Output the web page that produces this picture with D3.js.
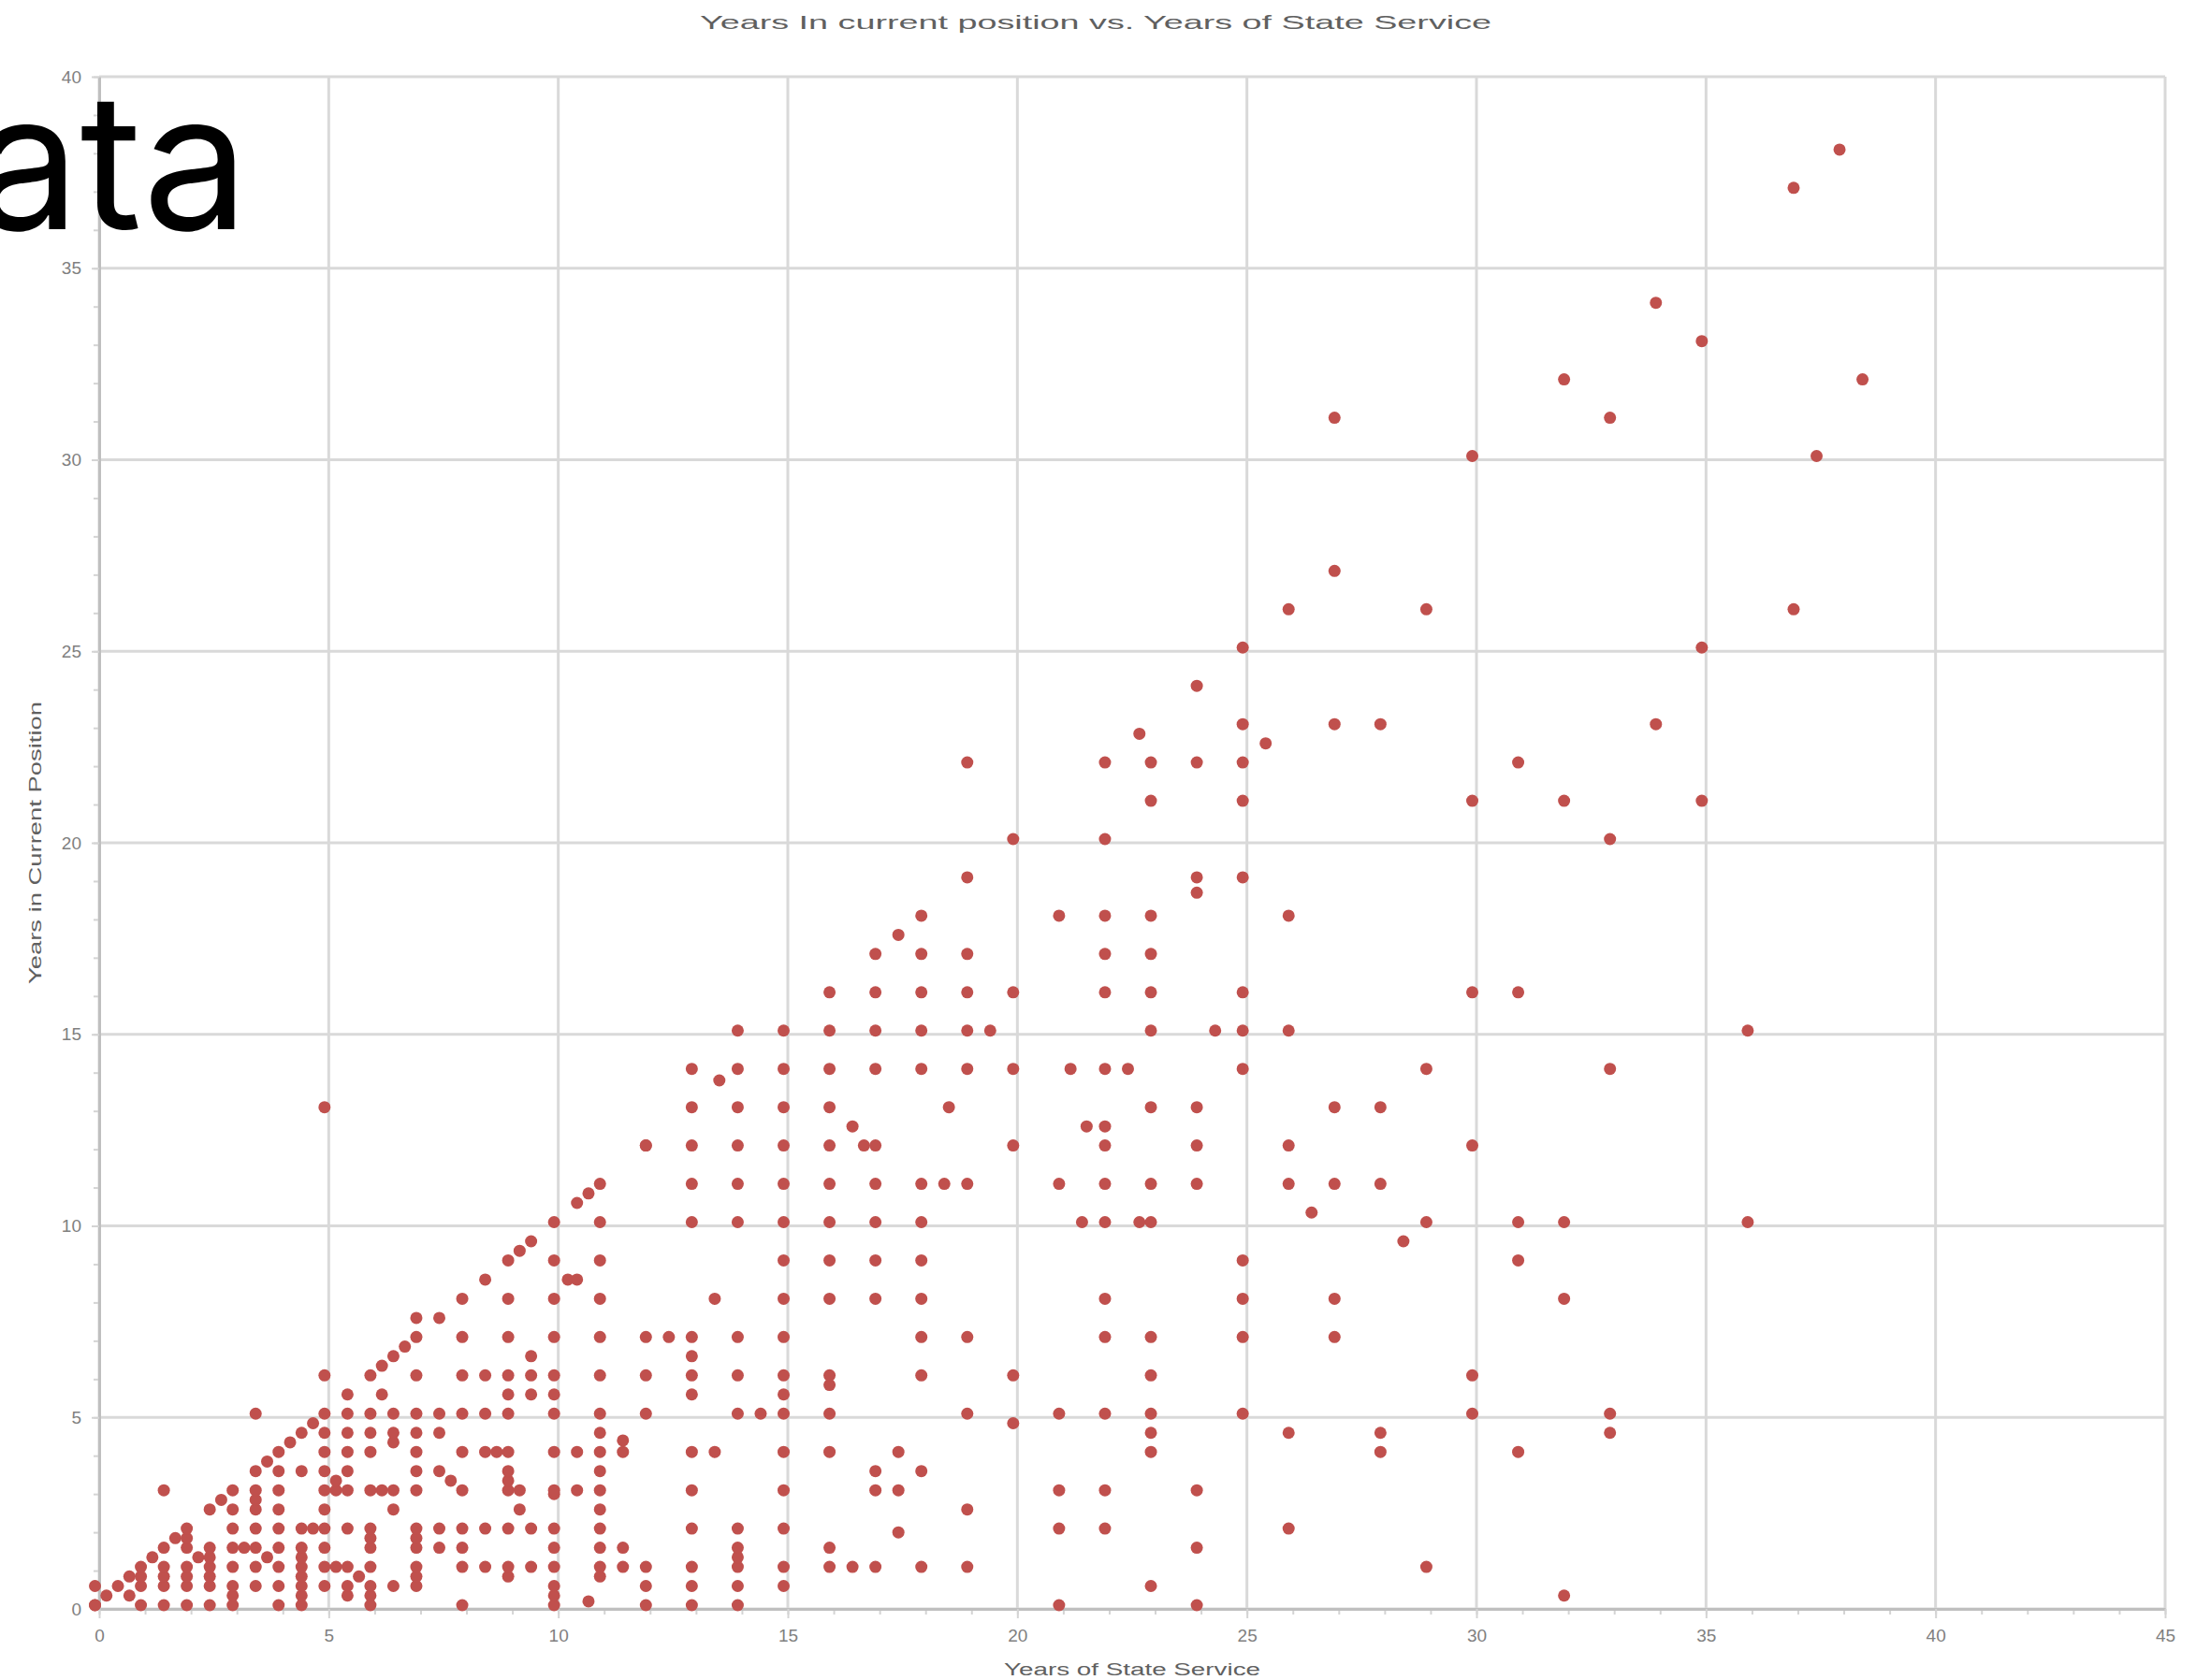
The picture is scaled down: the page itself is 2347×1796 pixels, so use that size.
<!DOCTYPE html>
<html>
<head>
<meta charset="utf-8">
<script src="https://cdn.jsdelivr.net/npm/d3@7"></script>
<style>
  body { margin: 0; background: #fff; }
  svg { display: block; font-family: "Liberation Sans", Arial, sans-serif; }
</style>
</head>
<body>
<svg width="2347" height="1796"></svg>
<script>
// chart text
var chartTitle = "Years In current position vs. Years of State Service",
    xTitle = "Years of State Service",
    yTitle = "Years in Current Position",
    overlayWord = "Data";

// tick labels
var xTicks = [0, 5, 10, 15, 20, 25, 30, 35, 40, 45],
    yTicks = [0, 5, 10, 15, 20, 25, 30, 35, 40];

// data, one entry per column: [years of state service, [years in current position ...]]
var earlyCareer = [
  [0, [0, 0, 0.5]], [0.25, [0.25]], [0.5, [0.5]], [0.75, [0.25, 0.75]],
  [1, [0, 0.5, 0.75, 1]], [1.25, [1.25]], [1.5, [0, 0.5, 0.75, 1, 1.5, 3]],
  [1.75, [1.75]], [2, [0, 0.5, 0.75, 1, 1.5, 1.75, 2]], [2.25, [1.25]],
  [2.5, [0, 0.5, 0.75, 1, 1.25, 1.5, 2.5]], [2.75, [2.75]],
  [3, [0, 0.25, 0.5, 1, 1.5, 2, 2.5, 3]], [3.25, [1.5]],
  [3.5, [0.5, 1, 1.5, 2, 2.5, 2.75, 3, 3.5, 5]], [3.75, [1.25, 3.75]],
  [4, [0, 0.5, 1, 1.5, 2, 2.5, 3, 3.5, 4]], [4.25, [4.25]],
  [4.5, [0, 0.25, 0.5, 0.75, 1, 1.25, 1.5, 2, 3.5, 4.5]], [4.75, [2, 4.75]]
];

var growing = [
  [5, [0.5, 1, 1.5, 2, 2.5, 3, 3.5, 4, 4.5, 5, 6, 13]], [5.25, [1, 3, 3.25]],
  [5.5, [0.25, 0.5, 1, 2, 3, 3.5, 4, 4.5, 5, 5.5]], [5.75, [0.75]],
  [6, [0, 0.25, 0.5, 1, 1.5, 1.75, 2, 3, 4, 4.5, 5, 6]], [6.25, [3, 5.5, 6.25]],
  [6.5, [0.5, 2.5, 3, 4.25, 4.5, 5, 6.5]], [6.75, [6.75]],
  [7, [0.5, 0.75, 1, 1.5, 1.75, 2, 3, 3.5, 4, 4.5, 5, 6, 7, 7.5]],
  [7.5, [1.5, 2, 3.5, 4.5, 5, 7.5]], [7.75, [3.25]],
  [8, [0, 1, 1.5, 2, 3, 4, 5, 6, 7, 8]], [8.5, [1, 2, 4, 5, 6, 8.5]], [8.75, [4]],
  [9, [0.75, 1, 2, 3, 3.25, 3.5, 4, 5, 5.5, 6, 7, 8, 9]], [9.25, [2.5, 3, 9.25]],
  [9.5, [1, 2, 5.5, 6, 6.5, 9.5]]
];

var middle = [
  [10, [0, 0.25, 0.5, 1, 1.5, 2, 2.9, 3, 4, 5, 5.5, 6, 7, 8, 9, 10]], [10.3, [8.5]],
  [10.5, [3, 4, 8.5, 10.5]], [10.75, [0.1, 10.75]],
  [11, [0.75, 1, 1.5, 2, 2.5, 3, 3.5, 4, 4.5, 5, 6, 7, 8, 9, 10, 11]],
  [11.5, [1, 1.5, 4, 4.3]], [12, [0, 0.5, 1, 5, 6, 7, 12, 12]], [12.5, [7]],
  [13, [0, 0.5, 1, 2, 3, 4, 5.5, 6, 6.5, 7, 10, 11, 12, 13, 14]],
  [13.5, [4, 8]], [13.6, [13.7]],
  [14, [0, 0.5, 1, 1.25, 1.5, 2, 5, 6, 7, 10, 11, 12, 13, 14, 15]], [14.5, [5]],
  [15, [0.5, 1, 2, 3, 4, 5, 5.5, 6, 7, 8, 9, 10, 11, 12, 13, 14, 15]],
  [16, [1, 1.5, 4, 5, 5.75, 6, 8, 9, 10, 11, 12, 13, 14, 15, 16]]
];

var later = [
  [16.5, [1, 12.5]], [16.75, [12]],
  [17, [1, 3, 3.5, 8, 9, 10, 11, 12, 14, 15, 16, 17]], [17.5, [1.9, 3, 4, 17.5]],
  [18, [1, 3.5, 6, 7, 8, 9, 10, 11, 14, 15, 16, 17, 18]], [18.5, [11]], [18.6, [13]],
  [19, [1, 2.5, 5, 7, 11, 14, 15, 16, 17, 19, 22]], [19.5, [15]],
  [20, [4.75, 6, 12, 14, 16, 20]], [21, [0, 2, 3, 5, 11, 18]],
  [21.25, [14]], [21.5, [10]], [21.6, [12.5]],
  [22, [2, 3, 5, 7, 8, 10, 11, 12, 12.5, 14, 16, 17, 18, 20, 22]],
  [22.5, [14]], [22.75, [10, 22.75]]
];

var senior = [
  [23, [0.5, 4, 4.5, 5, 6, 7, 10, 11, 13, 15, 16, 17, 18, 21, 22]],
  [24, [0, 1.5, 3, 11, 12, 13, 18.6, 19, 22, 24]], [24.4, [15]],
  [25, [5, 7, 8, 9, 14, 15, 16, 19, 21, 22, 23, 25]], [25.5, [22.5]],
  [26, [2, 4.5, 11, 12, 15, 18, 26]], [26.5, [10.25]],
  [27, [7, 8, 11, 13, 23, 27, 31]], [28, [4, 4.5, 11, 13, 23]], [28.5, [9.5]],
  [29, [1, 10, 14, 26]], [30, [5, 6, 12, 16, 21, 30]], [31, [4, 9, 10, 16, 22]],
  [32, [0.25, 8, 10, 21, 32]], [33, [4.5, 5, 14, 20, 31]], [34, [23, 34]],
  [35, [21, 25, 33]], [36, [10, 15]], [37, [26, 37]], [37.5, [30]],
  [38, [38]], [38.5, [32]]
];

var points = earlyCareer.concat(growing, middle, later, senior)
  .flatMap(function(c) { return c[1].map(function(v) { return {service: c[0], position: v}; }); });

// set up svg field
var svg = d3.select("svg"),
    plot = {left: 106, right: 2314, top: 82, bottom: 1720};

svg.append("rect").attr("width", 2347).attr("height", 1796).attr("fill", "#fff");

var x = d3.scaleLinear().domain([0, 45]).range([plot.left, plot.right]),
    y = d3.scaleLinear().domain([0, 40]).range([plot.bottom, plot.top]);

// gridlines
var grid = svg.append("g").attr("stroke", "#d9d9d9").attr("stroke-width", 3);
grid.selectAll(".gx").data(xTicks).enter().append("line")
    .attr("x1", x).attr("x2", x).attr("y1", plot.top).attr("y2", plot.bottom);
grid.selectAll(".gy").data(yTicks).enter().append("line")
    .attr("x1", plot.left).attr("x2", plot.right).attr("y1", y).attr("y2", y);

// minor ticks every unit
svg.append("g")
    .attr("class", "minor")
    .attr("transform", "translate(0," + plot.bottom + ")")
    .call(d3.axisBottom(x).tickValues(d3.range(0, 46)).tickSize(6).tickFormat(""));
svg.append("g")
    .attr("class", "minor")
    .attr("transform", "translate(" + plot.left + ",0)")
    .call(d3.axisLeft(y).tickValues(d3.range(0, 41)).tickSize(6).tickFormat(""));

// major axes with labels
svg.append("g")
    .attr("class", "axis")
    .attr("transform", "translate(0," + plot.bottom + ")")
    .call(d3.axisBottom(x).tickValues(xTicks).tickSize(10).tickPadding(12).tickSizeOuter(0));
svg.append("g")
    .attr("class", "axis")
    .attr("transform", "translate(" + plot.left + ",0)")
    .call(d3.axisLeft(y).tickValues(yTicks).tickSize(8).tickPadding(11).tickSizeOuter(0));

svg.selectAll(".minor path").remove();
svg.selectAll(".minor line").attr("stroke", "#d4d4d4").attr("stroke-width", 2);
svg.selectAll(".axis path").attr("stroke", "#bfbfbf").attr("stroke-width", 3);
svg.selectAll(".axis line").attr("stroke", "#d4d4d4").attr("stroke-width", 2);
svg.selectAll(".axis text")
    .attr("font-family", "Liberation Sans, Arial, sans-serif")
    .attr("font-size", 19)
    .attr("fill", "#808080");

// scatter points
svg.append("g")
    .attr("transform", "translate(-4.5,-4)")
    .selectAll(".dot")
    .data(points)
  .enter().append("circle")
    .attr("class", "dot")
    .attr("cx", function(d) { return x(d.service); })
    .attr("cy", function(d) { return y(d.position); })
    .attr("r", 6.5)
    .attr("fill", "#c0504d");

// titles
svg.append("text")
    .attr("x", 1171).attr("y", 31)
    .attr("text-anchor", "middle")
    .attr("font-size", 21)
    .attr("fill", "#606060")
    .attr("textLength", 846).attr("lengthAdjust", "spacingAndGlyphs")
    .text(chartTitle);

svg.append("text")
    .attr("x", (plot.left + plot.right) / 2).attr("y", 1791)
    .attr("text-anchor", "middle")
    .attr("font-size", 18)
    .attr("fill", "#606060")
    .attr("textLength", 274).attr("lengthAdjust", "spacingAndGlyphs")
    .text(xTitle);

svg.append("text")
    .attr("transform", "translate(44," + (plot.top + plot.bottom) / 2 + ") rotate(-90)")
    .attr("text-anchor", "middle")
    .attr("font-size", 18)
    .attr("fill", "#606060")
    .attr("textLength", 302).attr("lengthAdjust", "spacingAndGlyphs")
    .text(yTitle);

// big overlay word, partly off the left edge
svg.append("text")
    .attr("x", 266).attr("y", 245)
    .attr("text-anchor", "end")
    .attr("font-family", "Inter, Roboto, sans-serif")
    .attr("font-size", 202)
    .attr("fill", "#000")
    .text(overlayWord);
</script>
</body>
</html>
